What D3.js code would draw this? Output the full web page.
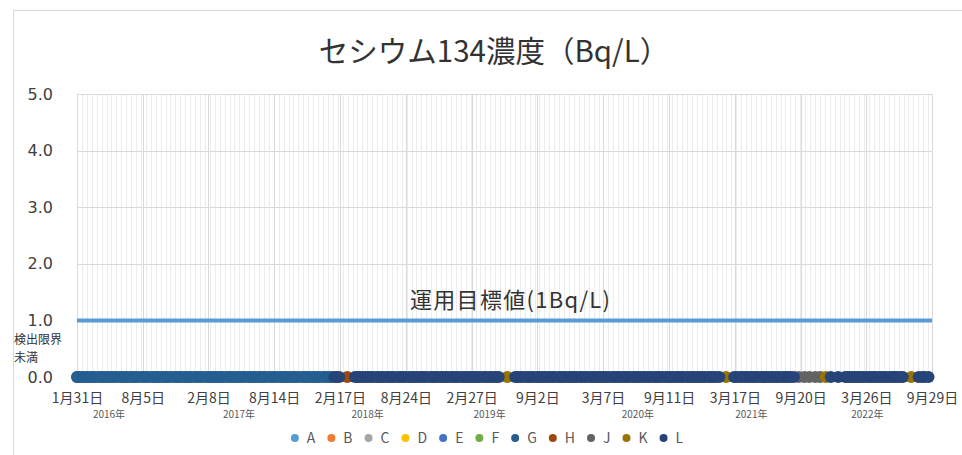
<!DOCTYPE html>
<html>
<head>
<meta charset="utf-8">
<script src="https://cdn.jsdelivr.net/npm/d3@7"></script>
<style>
body{margin:0;background:#fff}
svg{display:block}
text{font-family:"Noto Sans CJK JP","Noto Sans",sans-serif}
</style>
</head>
<body>
<svg id="chart" width="962" height="455"></svg>
<script>
// legend series and colours (Excel office palette)
const seriesNames=["A","B","C","D","E","F","G","H","J","K","L"];
const seriesColors=["#5b9bd5","#ed7d31","#a5a5a5","#ffc000","#4472c4","#70ad47","#255e91","#9e480e","#636363","#997300","#264478"];

const xStart="2016-01-31", xEnd="2022-09-29";
const xTickDates=["2016-01-31","2016-08-05","2017-02-08","2017-08-14","2018-02-17","2018-08-24","2019-02-27",
  "2019-09-02","2020-03-07","2020-09-11","2021-03-17","2021-09-20","2022-03-26","2022-09-29"];
const yTicks=[0,1,2,3,4,5];
const yearLabels=["2016年","2017年","2018年","2019年","2020年","2021年","2022年"];
const yearLabelDates=["2016-05-01","2017-05-06","2018-05-07","2019-04-19","2020-06-14","2021-05-03","2022-03-29"];

// target value line (1 Bq/L)
const targetData=[["2016-01-31",1],["2022-09-29",1]];

// measurements: all below detection limit, plotted at 0
const gData=[["2016-01-31",0],
  ["2016-02-01",0],["2016-02-08",0],["2016-02-15",0],["2016-02-22",0],["2016-03-01",0],["2016-03-08",0],["2016-03-15",0],["2016-03-22",0],
  ["2016-04-01",0],["2016-04-08",0],["2016-04-15",0],["2016-04-22",0],["2016-05-01",0],["2016-05-08",0],["2016-05-15",0],["2016-05-22",0],
  ["2016-06-01",0],["2016-06-08",0],["2016-06-15",0],["2016-06-22",0],["2016-07-01",0],["2016-07-08",0],["2016-07-15",0],["2016-07-22",0],
  ["2016-08-01",0],["2016-08-08",0],["2016-08-15",0],["2016-08-22",0],["2016-09-01",0],["2016-09-08",0],["2016-09-15",0],["2016-09-22",0],
  ["2016-10-01",0],["2016-10-08",0],["2016-10-15",0],["2016-10-22",0],["2016-11-01",0],["2016-11-08",0],["2016-11-15",0],["2016-11-22",0],
  ["2016-12-01",0],["2016-12-08",0],["2016-12-15",0],["2016-12-22",0],
  ["2017-01-01",0],["2017-01-08",0],["2017-01-15",0],["2017-01-22",0],["2017-02-01",0],["2017-02-08",0],["2017-02-15",0],["2017-02-22",0],
  ["2017-03-01",0],["2017-03-08",0],["2017-03-15",0],["2017-03-22",0],["2017-04-01",0],["2017-04-08",0],["2017-04-15",0],["2017-04-22",0],
  ["2017-05-01",0],["2017-05-08",0],["2017-05-15",0],["2017-05-22",0],["2017-06-01",0],["2017-06-08",0],["2017-06-15",0],["2017-06-22",0],
  ["2017-07-01",0],["2017-07-08",0],["2017-07-15",0],["2017-07-22",0],["2017-08-01",0],["2017-08-08",0],["2017-08-15",0],["2017-08-22",0],
  ["2017-09-01",0],["2017-09-08",0],["2017-09-15",0],["2017-09-22",0],["2017-10-01",0],["2017-10-08",0],["2017-10-15",0],["2017-10-22",0],
  ["2017-11-01",0],["2017-11-08",0],["2017-11-15",0],["2017-11-22",0],["2017-12-01",0],["2017-12-08",0],["2017-12-15",0],["2017-12-22",0],
  ["2018-01-01",0],["2018-01-08",0],["2018-01-15",0],["2018-01-22",0]];
const hData=[["2018-03-10",0]];
const jData=[["2021-09-15",0],["2021-10-01",0],["2021-10-15",0],["2021-11-01",0],["2021-11-15",0]];
const kData=[["2019-06-08",0],["2021-02-20",0],["2021-12-01",0],["2022-08-01",0]];
const lData=[["2018-02-01",0],["2018-02-08",0],["2018-02-15",0],
  ["2018-04-01",0],["2018-04-08",0],["2018-04-15",0],["2018-04-22",0],["2018-05-01",0],["2018-05-08",0],["2018-05-15",0],["2018-05-22",0],
  ["2018-06-01",0],["2018-06-08",0],["2018-06-15",0],["2018-06-22",0],["2018-07-01",0],["2018-07-08",0],["2018-07-15",0],["2018-07-22",0],
  ["2018-08-01",0],["2018-08-08",0],["2018-08-15",0],["2018-08-22",0],["2018-09-01",0],["2018-09-08",0],["2018-09-15",0],["2018-09-22",0],
  ["2018-10-01",0],["2018-10-08",0],["2018-10-15",0],["2018-10-22",0],["2018-11-01",0],["2018-11-08",0],["2018-11-15",0],["2018-11-22",0],
  ["2018-12-01",0],["2018-12-08",0],["2018-12-15",0],["2018-12-22",0],
  ["2019-01-01",0],["2019-01-08",0],["2019-01-15",0],["2019-01-22",0],["2019-02-01",0],["2019-02-08",0],["2019-02-15",0],["2019-02-22",0],
  ["2019-03-01",0],["2019-03-08",0],["2019-03-15",0],["2019-03-22",0],["2019-04-01",0],["2019-04-08",0],["2019-04-15",0],["2019-04-22",0],
  ["2019-05-01",0],["2019-05-08",0],["2019-05-15",0],
  ["2019-07-01",0],["2019-07-08",0],["2019-07-15",0],["2019-07-22",0],["2019-08-01",0],["2019-08-08",0],["2019-08-15",0],["2019-08-22",0],
  ["2019-09-01",0],["2019-09-08",0],["2019-09-15",0],["2019-09-22",0],["2019-10-01",0],["2019-10-08",0],["2019-10-15",0],["2019-10-22",0],
  ["2019-11-01",0],["2019-11-08",0],["2019-11-15",0],["2019-11-22",0],["2019-12-01",0],["2019-12-08",0],["2019-12-15",0],["2019-12-22",0],
  ["2020-01-01",0],["2020-01-08",0],["2020-01-15",0],["2020-01-22",0],["2020-02-01",0],["2020-02-08",0],["2020-02-15",0],["2020-02-22",0],
  ["2020-03-01",0],["2020-03-08",0],["2020-03-15",0],["2020-03-22",0],["2020-04-01",0],["2020-04-08",0],["2020-04-15",0],["2020-04-22",0],
  ["2020-05-01",0],["2020-05-08",0],["2020-05-15",0],["2020-05-22",0],["2020-06-01",0],["2020-06-08",0],["2020-06-15",0],["2020-06-22",0],
  ["2020-07-01",0],["2020-07-08",0],["2020-07-15",0],["2020-07-22",0],["2020-08-01",0],["2020-08-08",0],["2020-08-15",0],["2020-08-22",0],
  ["2020-09-01",0],["2020-09-08",0],["2020-09-15",0],["2020-09-22",0],["2020-10-01",0],["2020-10-08",0],["2020-10-15",0],["2020-10-22",0],
  ["2020-11-01",0],["2020-11-08",0],["2020-11-15",0],["2020-11-22",0],["2020-12-01",0],["2020-12-08",0],["2020-12-15",0],["2020-12-22",0],
  ["2021-01-01",0],["2021-01-08",0],["2021-01-15",0],["2021-01-22",0],["2021-02-01",0],
  ["2021-03-15",0],["2021-03-22",0],["2021-04-01",0],["2021-04-08",0],["2021-04-15",0],["2021-04-22",0],
  ["2021-05-01",0],["2021-05-08",0],["2021-05-15",0],["2021-05-22",0],["2021-06-01",0],["2021-06-08",0],["2021-06-15",0],["2021-06-22",0],
  ["2021-07-01",0],["2021-07-08",0],["2021-07-15",0],["2021-07-22",0],["2021-08-01",0],["2021-08-08",0],["2021-08-15",0],["2021-08-22",0],
  ["2021-09-01",0],
  ["2021-12-15",0],["2022-01-05",0],["2022-01-25",0],
  ["2022-02-01",0],["2022-02-08",0],["2022-02-15",0],["2022-02-22",0],["2022-03-01",0],["2022-03-08",0],["2022-03-15",0],["2022-03-22",0],
  ["2022-04-01",0],["2022-04-08",0],["2022-04-15",0],["2022-04-22",0],["2022-05-01",0],["2022-05-08",0],["2022-05-15",0],["2022-05-22",0],
  ["2022-06-01",0],["2022-06-08",0],["2022-06-15",0],["2022-06-22",0],["2022-07-01",0],["2022-07-08",0],
  ["2022-08-22",0],["2022-09-01",0],["2022-09-08",0],["2022-09-19",0]];
const pointSeries=[{name:"G",data:gData},{name:"H",data:hData},{name:"J",data:jData},{name:"K",data:kData},{name:"L",data:lData}];

const parse=d3.timeParse("%Y-%m-%d");
const color=d3.scaleOrdinal().domain(seriesNames).range(seriesColors);
const svg=d3.select("#chart");
const m={l:77,r:932,t:94,b:377};

svg.append("rect").attr("x",13.5).attr("y",10.5).attr("width",970).attr("height",470)
  .attr("fill","#fff").attr("stroke","#d9d9d9");

const x=d3.scaleTime().domain([parse(xStart),parse(xEnd)]).range([m.l,m.r]);
const y=d3.scaleLinear().domain([0,5]).range([m.b,m.t]);

// minor vertical gridlines every 14 days
const totalDays=d3.timeDay.count(parse(xStart),parse(xEnd));
const minor=d3.range(0,totalDays,14).map(d=>d3.timeDay.offset(parse(xStart),d));
svg.append("g").selectAll("line").data(minor).join("line")
  .attr("x1",d=>Math.round(x(d))+0.5).attr("x2",d=>Math.round(x(d))+0.5)
  .attr("y1",m.t).attr("y2",m.b).attr("stroke","#ececec");

// major gridlines
svg.append("g").selectAll("line").data(xTickDates.map(parse)).join("line")
  .attr("x1",d=>Math.round(x(d))+0.5).attr("x2",d=>Math.round(x(d))+0.5)
  .attr("y1",m.t).attr("y2",m.b).attr("stroke","#d9d9d9");
svg.append("g").selectAll("line").data(yTicks).join("line")
  .attr("x1",m.l).attr("x2",m.r).attr("y1",d=>Math.round(y(d))+0.5).attr("y2",d=>Math.round(y(d))+0.5)
  .attr("stroke","#d9d9d9");

// axes
const yAxis=svg.append("g").attr("transform",`translate(${m.l},0)`)
  .call(d3.axisLeft(y).tickValues(yTicks).tickFormat(d3.format(".1f")).tickSize(0).tickPadding(24));
yAxis.select(".domain").remove();
yAxis.selectAll("text").attr("font-size",16).attr("fill","#404040").style("font-family","'DejaVu Sans',sans-serif");

const xAxis=svg.append("g").attr("transform",`translate(0,${m.b})`)
  .call(d3.axisBottom(x).tickValues(xTickDates.map(parse)).tickFormat(d3.timeFormat("%-m月%-d日")).tickSize(0).tickPadding(16));
xAxis.select(".domain").remove();
xAxis.selectAll("text").attr("font-size",14).attr("fill","#404040");

svg.append("g").selectAll("text").data(yearLabels).join("text")
  .attr("x",(d,i)=>x(parse(yearLabelDates[i]))).attr("y",418)
  .attr("text-anchor","middle").attr("font-size",10).attr("fill","#595959").text(d=>d);

// target line
svg.append("path").datum(targetData)
  .attr("fill","none").attr("stroke","#5b9bd5").attr("stroke-width",4)
  .attr("d",d3.line().x(d=>x(parse(d[0]))).y(d=>y(d[1])));

// points
pointSeries.forEach(s=>{
  svg.append("g").selectAll("circle").data(s.data).join("circle")
    .attr("cx",d=>x(parse(d[0]))).attr("cy",d=>y(d[1])).attr("r",6)
    .attr("fill",color(s.name));
});

// annotations
svg.append("text").attr("x",494).attr("y",62).attr("text-anchor","middle")
  .attr("font-size",29.5).attr("fill","#333").text("セシウム134濃度（Bq/L）");
svg.append("text").attr("x",410).attr("y",308).attr("font-size",22).attr("letter-spacing",1.3)
  .attr("fill","#333").text("運用目標値(1Bq/L)");
svg.append("text").attr("x",14).attr("y",344).attr("font-size",12).attr("fill","#333").text("検出限界");
svg.append("text").attr("x",14).attr("y",362).attr("font-size",12).attr("fill","#333").text("未満");

// legend
const leg=svg.append("g");
let cx=0;
seriesNames.forEach(n=>{
  const it=leg.append("g").attr("transform",`translate(${cx},0)`);
  it.append("circle").attr("cx",4).attr("cy",0).attr("r",4).attr("fill",color(n));
  const t=it.append("text").attr("x",16).attr("y",5).attr("font-size",14).attr("fill","#595959").text(n);
  cx+=16+t.node().getComputedTextLength()+12;
});
leg.attr("transform",`translate(${487-(cx-12)/2},438)`);
</script>
</body>
</html>
